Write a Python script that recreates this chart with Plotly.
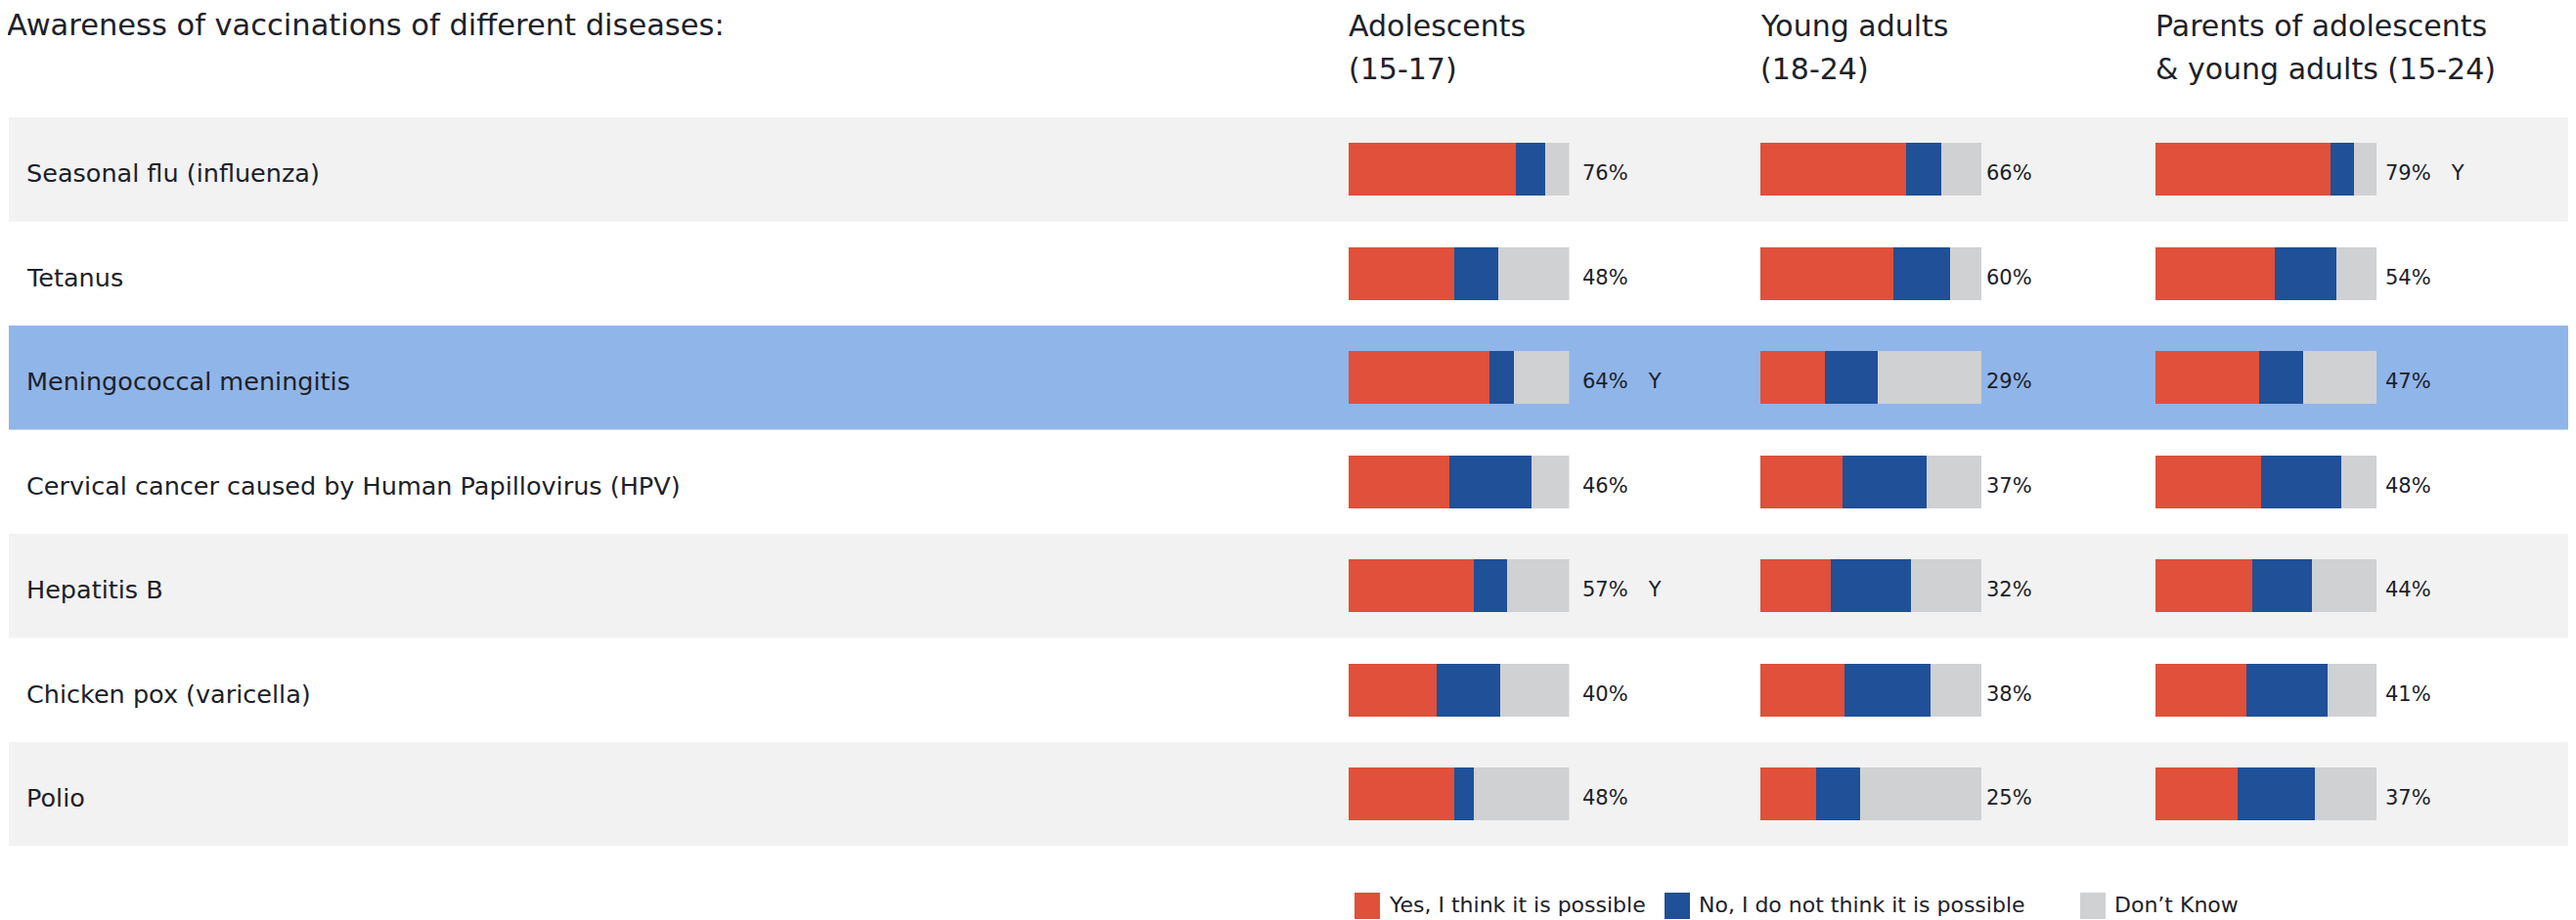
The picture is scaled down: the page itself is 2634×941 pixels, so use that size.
import plotly.graph_objects as go

W, H = 2634, 941
OFF = 8  # page body margin offset
FW, FH = W - OFF, H - OFF

title_text = "Awareness of vaccinations of different diseases:"
categories = [
    "Seasonal flu (influenza)",
    "Tetanus",
    "Meningococcal meningitis",
    "Cervical cancer caused by Human Papillovirus (HPV)",
    "Hepatitis B",
    "Chicken pox (varicella)",
    "Polio",
]
group_line1 = ["Adolescents", "Young adults", "Parents of adolescents"]
group_line2 = ["(15-17)", "(18-24)", "& young adults (15-24)"]
series_names = ["Yes, I think it is possible", "No, I do not think it is possible", "Don\u2019t Know"]

# values per group: yes / no / don't know (%)
yes_adol = [76, 48, 64, 46, 57, 40, 48]
no_adol = [13, 20, 11, 37, 15, 29, 9]
dk_adol = [11, 32, 25, 17, 28, 31, 43]

yes_young = [66, 60, 29, 37, 32, 38, 25]
no_young = [16, 26, 24, 38, 36, 39, 20]
dk_young = [18, 14, 47, 25, 32, 23, 55]

yes_par = [79, 54, 47, 48, 44, 41, 37]
no_par = [11, 28, 20, 36, 27, 37, 35]
dk_par = [10, 18, 33, 16, 29, 22, 28]

flag_adol = ["", "", "Y", "", "Y", "", ""]
flag_young = ["", "", "", "", "", "", ""]
flag_par = ["Y", "", "", "", "", "", ""]

highlight_row = "Meningococcal meningitis"

colors = ["#E0503A", "#1F5098", "#D0D1D3"]
band_gray = "#F2F2F2"
band_high = "#90B5E9"
text_col = "#1C2129"
FONT = "DejaVu Sans"

data = [
    (yes_adol, no_adol, dk_adol, flag_adol),
    (yes_young, no_young, dk_young, flag_young),
    (yes_par, no_par, dk_par, flag_par),
]

# layout geometry (page pixels)
col_px = [(1378.5, 1604.5), (1800, 2026), (2204, 2430)]
label_gap = [11, 3, 7]
top_px, bottom_px = 120, 865.5


def px(x):
    return (x - OFF) / FW


def py(y):
    return 1 - (y - OFF) / FH


fig = go.Figure()
for gi, (yv, nv, dv, fl) in enumerate(data):
    xa = "x" if gi == 0 else f"x{gi + 1}"
    for si, vals in enumerate([yv, nv, dv]):
        fig.add_trace(go.Bar(
            y=categories, x=vals, orientation="h", xaxis=xa, yaxis="y",
            marker=dict(color=colors[si], line=dict(width=0)),
            width=0.51, name=series_names[si], showlegend=False,
            hoverinfo="x+y+name",
        ))

layout_axes = {}
for gi in range(3):
    key = "xaxis" if gi == 0 else f"xaxis{gi + 1}"
    x0, x1 = col_px[gi]
    layout_axes[key] = dict(domain=[px(x0), px(x1)], range=[0, 100], visible=False,
                            anchor="y", fixedrange=True)

fig.update_layout(**layout_axes)
fig.update_layout(
    width=FW, height=FH,
    margin=dict(l=0, r=0, t=0, b=0),
    paper_bgcolor="white", plot_bgcolor="rgba(0,0,0,0)",
    barmode="stack",
    yaxis=dict(domain=[py(bottom_px), py(top_px)], type="category",
               categoryorder="array", categoryarray=categories,
               range=[len(categories) - 0.5, -0.5], visible=False, fixedrange=True),
    font=dict(family=FONT, color=text_col),
    showlegend=False,
)

shapes = []
for i, cat in enumerate(categories):
    if cat == highlight_row:
        col = band_high
    elif i % 2 == 0:
        col = band_gray
    else:
        continue
    shapes.append(dict(type="rect", xref="paper", yref="y", x0=px(9), x1=1,
                       y0=i - 0.5, y1=i + 0.5, fillcolor=col, line=dict(width=0),
                       layer="below"))

annotations = []
# title
annotations.append(dict(text=title_text, xref="paper", yref="paper", x=px(5), y=py(25.5),
                        xanchor="left", yanchor="middle", showarrow=False,
                        font=dict(size=30.5, family=FONT, color=text_col)))
# group headers (two lines each)
for gi in range(3):
    for line, ypix in ((group_line1[gi], 26), (group_line2[gi], 70.5)):
        annotations.append(dict(text=line, xref="paper", yref="paper",
                                x=px(col_px[gi][0] - 2), y=py(ypix),
                                xanchor="left", yanchor="middle", align="left",
                                showarrow=False,
                                font=dict(size=30, family=FONT, color=text_col)))
# row labels
for cat in categories:
    annotations.append(dict(text=cat, xref="paper", yref="y", x=px(25), y=cat,
                            xanchor="left", yanchor="middle", showarrow=False, yshift=-4,
                            font=dict(size=25.5, family=FONT, color=text_col)))
# value labels
for gi, (yv, nv, dv, fl) in enumerate(data):
    xr = "x" if gi == 0 else f"x{gi + 1}"
    for cat, v, f in zip(categories, yv, fl):
        t = f"{v}%" + (f"\u2002\u2002{f}" if f else "")
        annotations.append(dict(text=t, xref=xr, yref="y", x=100, y=cat,
                                xanchor="left", yanchor="middle", xshift=label_gap[gi],
                                yshift=-4, showarrow=False,
                                font=dict(size=21, family=FONT, color=text_col)))
# custom legend
leg_x = [1385, 1702, 2127]
for si, name in enumerate(series_names):
    shapes.append(dict(type="rect", xref="paper", yref="paper",
                       x0=px(leg_x[si]), x1=px(leg_x[si] + 26), y0=py(940), y1=py(913),
                       fillcolor=colors[si], line=dict(width=0)))
    annotations.append(dict(text=name, xref="paper", yref="paper", x=px(leg_x[si] + 33),
                            y=py(925), xanchor="left", yanchor="middle", showarrow=False,
                            font=dict(size=22, family=FONT, color=text_col)))

fig.update_layout(shapes=shapes, annotations=annotations)
fig.write_html("out.html")
